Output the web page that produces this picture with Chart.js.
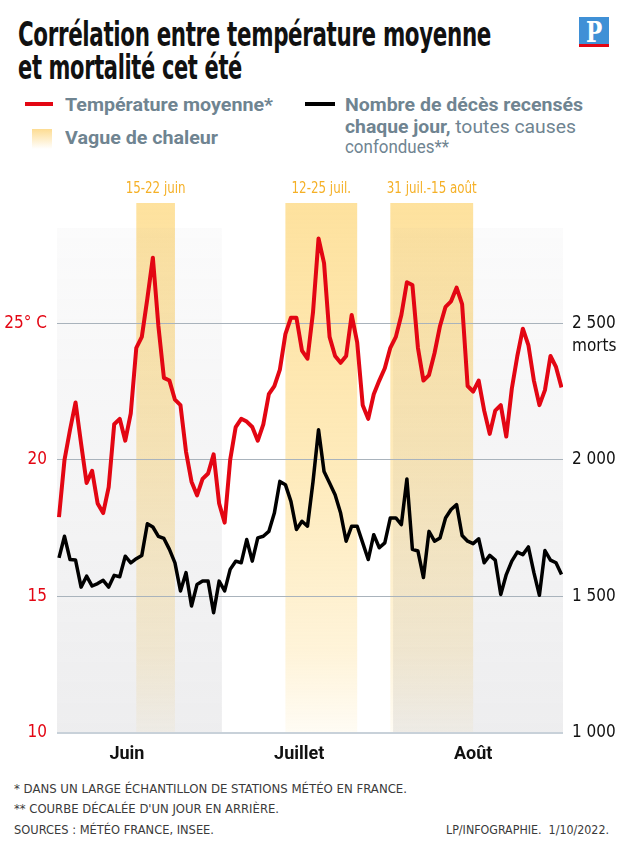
<!DOCTYPE html>
<html lang="fr">
<head>
<meta charset="utf-8">
<title>Corrélation entre température moyenne et mortalité cet été</title>
<script src="https://cdn.jsdelivr.net/npm/chart.js@4.4.1/dist/chart.umd.min.js"></script>
<style>
  html, body { margin: 0; padding: 0; background: #fff; }
  body { width: 622px; height: 849px; position: relative; overflow: hidden; font-family: Roboto, sans-serif; }
  .t { position: absolute; white-space: nowrap; line-height: 1; transform-origin: 0 50%; }
  .titre { font-family: "DejaVu Sans Condensed", "Liberation Sans", sans-serif; font-stretch: condensed; font-weight: 700; font-size: 33px; color: #111; letter-spacing: -0.5px; }
  .leg { font-family: Roboto, sans-serif; font-weight: 700; font-size: 18px; color: #6f8491; }
  .leg .reg { font-weight: 400; }
  .pied { font-family: "DejaVu Sans Condensed", "Liberation Sans", sans-serif; font-stretch: condensed; font-size: 12px; color: #3a3a3a; }
  .swatch { position: absolute; }
  #logo { position: absolute; left: 579px; top: 17px; width: 30px; height: 30px; background: #3f90d6; overflow: hidden; }
  #logo span { position: absolute; left: 0; right: 0; top: 0; text-align: center; font-family: "DejaVu Serif", serif; font-weight: 700; font-size: 27px; color: #fff; transform: scaleX(0.8); }
  #logo i { position: absolute; left: 0; right: 0; bottom: 0; height: 3px; background: #e30613; }
  #zone { position: absolute; left: 0; top: 170px; width: 622px; height: 600px; }
</style>
</head>
<body>
<div class="t titre" style="left:18px; top:18px" data-w="473">Corrélation entre température moyenne</div>
<div class="t titre" style="left:18px; top:51px" data-w="224">et mortalité cet été</div>
<div id="logo"><span>P</span><i></i></div>

<div class="swatch" style="left:25px; top:102px; width:28px; height:4px; background:#e30613"></div>
<div class="t leg" style="left:65px; top:96px" data-w="208">Température moyenne*</div>
<div class="swatch" style="left:32px; top:129px; width:20px; height:20px; background:linear-gradient(#fddc92, #fff)"></div>
<div class="t leg" style="left:65px; top:129px" data-w="153">Vague de chaleur</div>

<div class="swatch" style="left:305px; top:102px; width:30px; height:4px; background:#000"></div>
<div class="t leg" style="left:345px; top:96px" data-w="238">Nombre de décès recensés</div>
<div class="t leg" style="left:345px; top:118px" data-w="231">chaque jour,<span class="reg"> toutes causes</span></div>
<div class="t leg" style="left:345px; top:138px" data-w="104"><span class="reg">confondues**</span></div>

<div id="zone"><canvas id="graphique" width="622" height="600"></canvas></div>

<div class="t pied" style="left:14px; top:783px" data-w="393">* DANS UN LARGE ÉCHANTILLON DE STATIONS MÉTÉO EN FRANCE.</div>
<div class="t pied" style="left:14px; top:803px" data-w="265">** COURBE DÉCALÉE D'UN JOUR EN ARRIÈRE.</div>
<div class="t pied" style="left:14px; top:824px" data-w="200">SOURCES : MÉTÉO FRANCE, INSEE.</div>
<div class="t pied" style="left:446px; top:824px" data-w="163">LP/INFOGRAPHIE.&nbsp; 1/10/2022.</div>

<script>
// jours du 1er juin au 31 août 2022
const premierJour = new Date(2022, 5, 1);
const jours = [];
for (let d = new Date(premierJour); d.getMonth() < 8; d.setDate(d.getDate() + 1)) {
  jours.push(d.toLocaleDateString("fr-FR", { day: "numeric", month: "short" }));
}

// température moyenne (°C)
const temperature = [
  17.9, 20.0, 21.1, 22.1, 20.6, 19.15, 19.6, 18.4, 18.05, 19.0,
  21.3, 21.5, 20.7, 21.7, 24.1, 24.5, 25.9, 27.4, 24.9, 23.0,
  22.9, 22.2, 22.0, 20.3, 19.2, 18.7, 19.3, 19.5, 20.2, 18.4,
  17.7, 20.0, 21.2, 21.5, 21.4, 21.2, 20.7, 21.3, 22.4, 22.7,
  23.3, 24.6, 25.2, 25.2, 24.0, 23.7, 25.4, 28.1, 27.2, 24.5,
  23.8, 23.55, 23.8, 25.3, 24.3, 22.0, 21.5, 22.4, 22.9, 23.35,
  24.1, 24.5, 25.3, 26.5, 26.4, 24.1, 22.9, 23.1, 23.9, 24.9,
  25.6, 25.8, 26.3, 25.7, 22.7, 22.5, 22.9, 21.8, 20.95, 21.8,
  22.0, 20.85, 22.6, 23.8, 24.8, 24.2, 22.9, 22.0, 22.55, 23.8,
  23.4, 22.65
];

// nombre de décès par jour (courbe décalée d'un jour)
const deces = [
  1641, 1720, 1635, 1633, 1534, 1574, 1538, 1547, 1559, 1534,
  1577, 1572, 1647, 1623, 1638, 1650, 1766, 1754, 1720, 1712,
  1672, 1623, 1520, 1587, 1465, 1544, 1556, 1556, 1440, 1556,
  1520, 1599, 1629, 1623, 1708, 1629, 1714, 1720, 1738, 1805,
  1921, 1909, 1848, 1745, 1775, 1757, 1920, 2110, 1957, 1915,
  1872, 1805, 1702, 1757, 1757, 1696, 1635, 1726, 1678, 1696,
  1787, 1787, 1763, 1930, 1672, 1666, 1569, 1738, 1702, 1714,
  1787, 1818, 1836, 1723, 1702, 1693, 1711, 1623, 1650, 1633,
  1507, 1580, 1629, 1662, 1653, 1681, 1587, 1504, 1668, 1633,
  1623, 1580
];

// vagues de chaleur
const vaguesDebut = ["2022-06-15", "2022-07-12", "2022-07-31"];
const vaguesFin = ["2022-06-22", "2022-07-25", "2022-08-15"];
const vaguesTexte = ["15-22 juin", "12-25 juil.", "31 juil.-15 août"];

// axes
const mois = ["Juin", "Juillet", "Août"];
const moisPos = [12.3, 43.5, 75];          // jour (index) où est posé le nom du mois
const moisBornes = [29.5, 60.5];           // séparation juin/juillet et juillet/août
const ticksTemp = [10, 15, 20, 25];
const ticksDeces = [1000, 1500, 2000, 2500];

const policeEtroite = '"DejaVu Sans Condensed", "Liberation Sans", sans-serif';

function indexJour(iso) {
  const [a, m, j] = iso.split("-").map(Number);
  return Math.round((new Date(a, m - 1, j) - premierJour) / 86400000);
}

function espaceMilliers(v) {
  return String(v).replace(/\B(?=(\d{3})+(?!\d))/g, "\u00a0");
}

// fonds gris, bandes jaunes et légendes des vagues
const fondPlugin = {
  id: "fond",
  beforeDraw(chart) {
    const { ctx, chartArea: a, scales } = chart;
    const x = scales.x;
    ctx.save();
    // bandes des vagues de chaleur
    const grad = ctx.createLinearGradient(0, a.top, 0, a.bottom);
    grad.addColorStop(0, "rgba(253,214,120,0.72)");
    grad.addColorStop(0.5, "rgba(253,214,120,0.5)");
    grad.addColorStop(0.85, "rgba(253,214,120,0.28)");
    grad.addColorStop(1, "rgba(253,214,120,0.08)");
    ctx.fillStyle = grad;
    vaguesDebut.forEach((deb, k) => {
      const x1 = x.getPixelForValue(indexJour(deb));
      const x2 = x.getPixelForValue(indexJour(vaguesFin[k]));
      ctx.fillRect(x1, a.top, x2 - x1, a.bottom - a.top);
    });
    // voile gris sur juin et août
    const haut = a.top + 25;
    const gris = ctx.createLinearGradient(0, haut, 0, a.bottom);
    gris.addColorStop(0, "rgba(120,120,130,0.03)");
    gris.addColorStop(1, "rgba(120,120,130,0.13)");
    ctx.fillStyle = gris;
    const b1 = x.getPixelForValue(moisBornes[0]);
    const b2 = x.getPixelForValue(moisBornes[1]);
    ctx.fillRect(a.left, haut, b1 - a.left, a.bottom - haut);
    ctx.fillRect(b2, haut, a.right - b2, a.bottom - haut);
    // textes des vagues
    ctx.fillStyle = "#f5b026";
    ctx.font = "15px " + policeEtroite;
    ctx.textAlign = "center";
    ctx.textBaseline = "middle";
    vaguesDebut.forEach((deb, k) => {
      const cx = (x.getPixelForValue(indexJour(deb)) + x.getPixelForValue(indexJour(vaguesFin[k]))) / 2;
      ctx.save();
      ctx.translate(cx, a.top - 14);
      ctx.scale(0.88, 1);
      ctx.fillText(vaguesTexte[k], 0, 0);
      ctx.restore();
    });
    ctx.restore();
  },
  afterDraw(chart) {
    const { ctx, chartArea: a, scales } = chart;
    ctx.save();
    ctx.fillStyle = "#111";
    ctx.font = "17px " + policeEtroite;
    ctx.textAlign = "left";
    ctx.textBaseline = "middle";
    ctx.fillText("morts", a.right + 9, scales.yD.getPixelForValue(2500) + 23);
    ctx.restore();
  }
};

const ctx = document.getElementById("graphique");
new Chart(ctx, {
  type: "line",
  data: {
    labels: jours,
    datasets: [
      {
        label: "Nombre de décès",
        data: deces.map((v, i) => ({ x: i, y: v })),
        yAxisID: "yD",
        borderColor: "#000",
        borderWidth: 3.5,
        pointRadius: 0,
        tension: 0,
        borderJoinStyle: "round"
      },
      {
        label: "Température moyenne",
        data: temperature.map((v, i) => ({ x: i, y: v })),
        yAxisID: "yT",
        borderColor: "#e30613",
        borderWidth: 4,
        pointRadius: 0,
        tension: 0,
        borderJoinStyle: "round"
      }
    ]
  },
  options: {
    responsive: false,
    animation: false,
    layout: { padding: { top: 33, left: 0, right: 0, bottom: 0 } },
    plugins: { legend: { display: false }, tooltip: { enabled: false } },
    scales: {
      x: {
        type: "linear",
        min: -0.36,
        max: 91.27,
        grid: { display: false },
        border: { display: false },
        afterBuildTicks: s => { s.ticks = moisPos.map(v => ({ value: v })); },
        afterFit: s => { s.height = 37; },
        ticks: {
          callback: (v, i) => mois[i],
          autoSkip: false,
          maxRotation: 0,
          padding: 3,
          color: "#111",
          font: { family: "Roboto", weight: "bold", size: 18 }
        }
      },
      yT: {
        position: "left",
        min: 10,
        max: 29.4,
        afterBuildTicks: s => { s.ticks = ticksTemp.map(v => ({ value: v })); },
        afterFit: s => { s.width = 57; },
        border: { display: false },
        grid: {
          drawTicks: false,
          color: c => c.tick && c.tick.value === 10 ? "#c8d1d9" : "#a9b3bc",
          lineWidth: c => c.tick && c.tick.value === 10 ? 2 : 1
        },
        ticks: {
          callback: v => v === 25 ? "25° C" : String(v),
          padding: 10,
          color: "#e30613",
          font: { family: policeEtroite, size: 17 }
        }
      },
      yD: {
        position: "right",
        min: 1000,
        max: 2940,
        afterBuildTicks: s => { s.ticks = ticksDeces.map(v => ({ value: v })); },
        afterFit: s => { s.width = 59; },
        border: { display: false },
        grid: { display: false, drawTicks: false },
        ticks: {
          callback: v => espaceMilliers(v),
          padding: 9,
          color: "#111",
          font: { family: policeEtroite, size: 17 }
        }
      }
    }
  },
  plugins: [fondPlugin]
});

// ajuste la largeur des textes à celle de la maquette
document.querySelectorAll("[data-w]").forEach(el => {
  const w = el.getBoundingClientRect().width;
  el.style.transform = "scaleX(" + (el.dataset.w / w) + ")";
});
</script>
</body>
</html>
